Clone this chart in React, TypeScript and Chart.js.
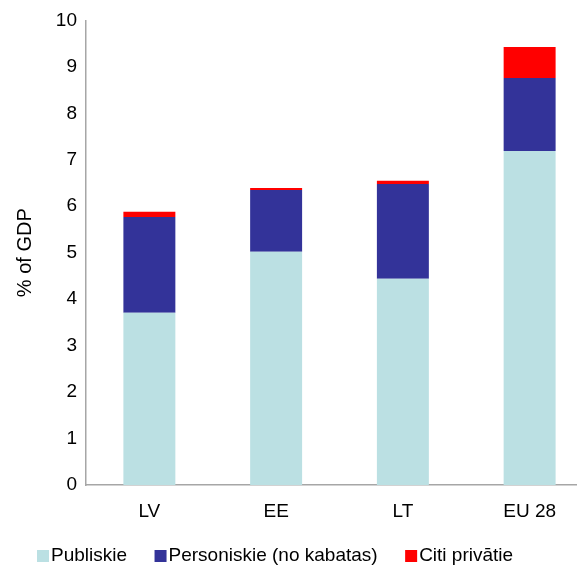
import React, { useEffect, useRef } from "react";
import { Chart, registerables } from "chart.js";
Chart.register(...registerables);

const categories = ["LV", "EE", "LT", "EU 28"];
const publiskie = [3.71, 5.02, 4.44, 7.19];
const personiskie = [2.06, 1.33, 2.04, 1.57];
const citiPrivatie = [0.11, 0.04, 0.07, 0.67];
const seriesLabels = ["Publiskie", "Personiskie (no kabatas)", "Citi privātie"];
const seriesColors = ["#BBE0E3", "#333399", "#FF0000"];
const yTicks = [0, 1, 2, 3, 4, 5, 6, 7, 8, 9, 10];

const FONT = "'Liberation Sans', Arial, sans-serif";
const FS = 19;

const legendPlugin = {
  id: "customLegend",
  afterDraw(chart: any) {
    const ctx = chart.ctx;
    ctx.save();
    ctx.font = `${FS}px ${FONT}`;
    ctx.textBaseline = "middle";
    let x = 37;
    const y = 556;
    chart.data.datasets.forEach((ds: any) => {
      ctx.fillStyle = ds.backgroundColor;
      ctx.fillRect(x, y - 6, 12, 12);
      x += 14;
      ctx.fillStyle = "#000";
      ctx.fillText(ds.label, x, y);
      x += ctx.measureText(ds.label).width + 27.5;
    });
    ctx.restore();
  },
};

export default function App() {
  const ref = useRef<HTMLCanvasElement>(null);
  useEffect(() => {
    if (!ref.current) return;
    const values = [publiskie, personiskie, citiPrivatie];
    const chart = new Chart(ref.current, {
      type: "bar",
      data: {
        labels: categories,
        datasets: values.map((v, i) => ({
          label: seriesLabels[i],
          data: v,
          backgroundColor: seriesColors[i],
          barPercentage: 0.41,
          categoryPercentage: 1,
        })),
      },
      options: {
        responsive: false,
        animation: false,
        devicePixelRatio: 1,
        layout: { padding: { top: 20, right: 7, left: 0, bottom: 0 } },
        plugins: { legend: { display: false }, tooltip: { enabled: false } },
        scales: {
          x: {
            stacked: true,
            grid: { display: false, drawTicks: false },
            border: { color: "#A6A6A6", width: 1.5 },
            ticks: { color: "#000", font: { family: FONT, size: FS }, padding: 15 },
            afterFit(scale: any) {
              scale.height = 85;
            },
          },
          y: {
            stacked: true,
            min: 0,
            max: 10,
            afterBuildTicks(scale: any) {
              scale.ticks = yTicks.map((v) => ({ value: v }));
            },
            grid: { display: false, drawTicks: false },
            border: { color: "#A6A6A6", width: 1.5 },
            ticks: { color: "#000", font: { family: FONT, size: FS }, padding: 9 },
            title: {
              display: true,
              text: "% of GDP",
              color: "#000",
              font: { family: FONT, size: 20 },
              padding: { top: 13, bottom: 0 },
            },
            afterFit(scale: any) {
              scale.width = 86;
            },
          },
        },
      },
      plugins: [legendPlugin],
    });
    return () => chart.destroy();
  }, []);
  return (
    <div style={{ position: "fixed", left: 0, top: 0, width: 577, height: 570, overflow: "hidden" }}>
      <canvas ref={ref} width={600} height={570} style={{ display: "block" }} />
    </div>
  );
}
